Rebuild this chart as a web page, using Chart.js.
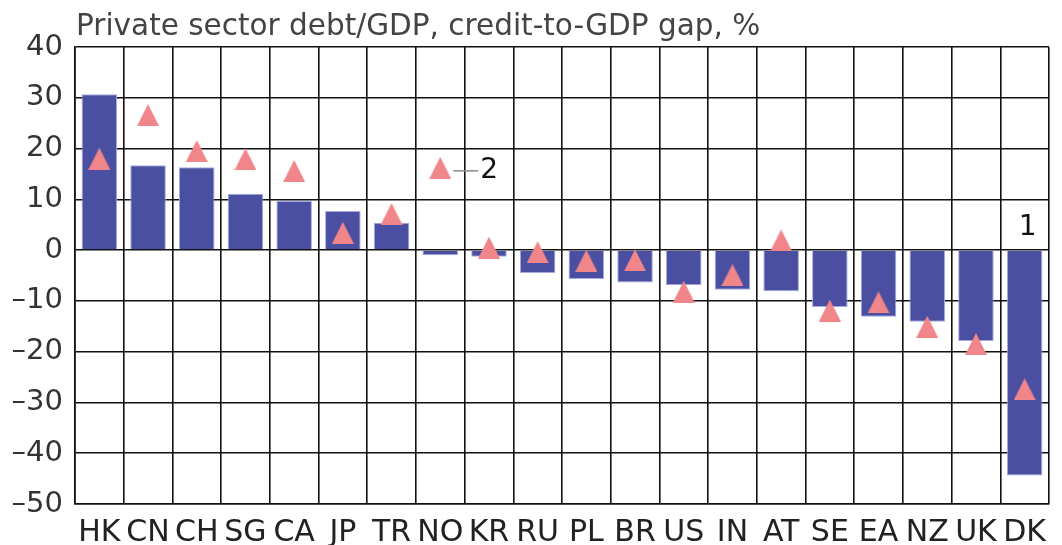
<!DOCTYPE html>
<html>
<head>
<meta charset="utf-8">
<script src="https://cdn.jsdelivr.net/npm/chart.js@4/dist/chart.umd.min.js"></script>
<style>
  html, body { margin: 0; padding: 0; background: #fff; }
  #wrap { width: 1062px; height: 545px; position: relative; }
</style>
</head>
<body>
<div id="wrap"><canvas id="c" width="1062" height="545"></canvas></div>
<script>
const categories = ['HK','CN','CH','SG','CA','JP','TR','NO','KR','RU','PL','BR','US','IN','AT','SE','EA','NZ','UK','DK'];
const debtToGdp = [30.7, 16.7, 16.3, 11.1, 9.65, 7.7, 5.4, -1.0, -1.3, -4.5, -5.7, -6.4, -6.9, -7.8, -8.1, -11.2, -13.1, -14.1, -17.9, -44.4];
const creditGap = [18.0, 26.6, 19.5, 17.9, 15.6, 3.4, 7.1, 16.2, 0.5, -0.4, -2.1, -2.0, -8.2, -4.9, 1.9, -11.9, -10.3, -15.1, -18.5, -27.4];
const yTicks = [40, 30, 20, 10, 0, -10, -20, -30, -40, -50];
const titleText = 'Private sector debt/GDP, credit-to-GDP gap, %';
const noteBars = { label: '1', category: 'DK', value: 4.5 };
const noteGap = { label: '2', category: 'NO', value: 16.2 };

const FONT = 'DejaVu Sans';

// triangle marker (bbox-centred like matplotlib '^')
const tri = document.createElement('canvas');
tri.width = 22; tri.height = 22;
(function(){
  const g = tri.getContext('2d');
  g.fillStyle = '#f0868a';
  g.beginPath();
  g.moveTo(11, 0); g.lineTo(22, 22); g.lineTo(0, 22); g.closePath();
  g.fill();
})();

const annotPlugin = {
  id: 'annot',
  afterDraw(chart) {
    const ctx = chart.ctx;
    const xs = chart.scales.x, ys = chart.scales.y;
    const area = chart.chartArea;
    ctx.save();
    // title
    ctx.fillStyle = '#444444';
    ctx.font = '29.5px "' + FONT + '"';
    ctx.textAlign = 'left';
    ctx.textBaseline = 'alphabetic';
    ctx.fillText(titleText, area.left + 1, 34.5);
    // note 1
    ctx.fillStyle = '#111111';
    ctx.font = '28px "' + FONT + '"';
    ctx.textAlign = 'center';
    ctx.textBaseline = 'middle';
    const x1 = xs.getPixelForValue(categories.indexOf(noteBars.category));
    ctx.fillText(noteBars.label, x1 + 3, ys.getPixelForValue(noteBars.value));
    // note 2 with leader line
    const x2 = xs.getPixelForValue(categories.indexOf(noteGap.category));
    const y2 = ys.getPixelForValue(noteGap.value) + 3;
    ctx.strokeStyle = '#8a8a8a';
    ctx.lineWidth = 1.5;
    ctx.beginPath();
    ctx.moveTo(x2 + 13, y2); ctx.lineTo(x2 + 38, y2);
    ctx.stroke();
    ctx.textAlign = 'left';
    ctx.fillText(noteGap.label, x2 + 40, y2);
    ctx.restore();
  }
};

new Chart(document.getElementById('c'), {
  data: {
    labels: categories,
    datasets: [
      {
        type: 'line',
        label: 'Credit-to-GDP gap',
        data: creditGap,
        showLine: false,
        pointStyle: tri,
        pointRadius: 11,
        pointHoverRadius: 11,
        order: 0
      },
      {
        type: 'bar',
        label: 'Private sector debt/GDP',
        data: debtToGdp,
        backgroundColor: '#4a4fa2',
        borderColor: '#a4aae6',
        borderWidth: 1,
        barPercentage: 0.73,
        categoryPercentage: 1.0,
        order: 1
      }
    ]
  },
  options: {
    responsive: false,
    animation: false,
    events: [],
    layout: { padding: { top: 47, right: 13, left: 0, bottom: 0 } },
    plugins: {
      legend: { display: false },
      title: { display: false },
      tooltip: { enabled: false }
    },
    scales: {
      x: {
        type: 'category',
        offset: true,
        grid: { offset: true, color: '#111111', lineWidth: 1.6, drawTicks: false },
        border: { display: true, color: '#111111', width: 1.6 },
        ticks: {
          autoSkip: false, maxRotation: 0, minRotation: 0,
          color: '#222222', padding: 11,
          font: { family: FONT, size: 30 }
        },
        afterFit(scale) { scale.height = 41; }
      },
      y: {
        min: -50, max: 40,
        afterBuildTicks(scale) { scale.ticks = yTicks.map(v => ({ value: v })); },
        grid: { color: '#111111', lineWidth: 1.6, drawTicks: false },
        border: { display: true, color: '#111111', width: 1.6 },
        ticks: {
          color: '#333333', padding: 12,
          font: { family: FONT, size: 29 },
          callback: (v) => (v < 0 ? '\u2013' + Math.abs(v) : String(v))
        },
        afterFit(scale) { scale.width = 75; }
      }
    }
  },
  plugins: [annotPlugin]
});
</script>
</body>
</html>
